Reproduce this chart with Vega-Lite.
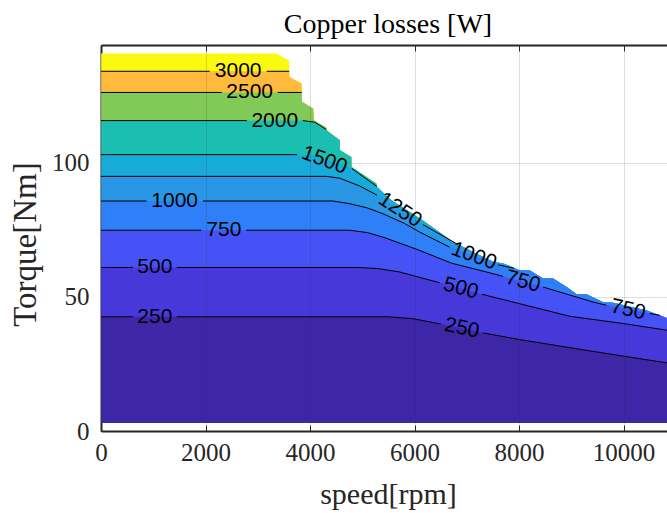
{
  "$schema": "https://vega.github.io/schema/vega-lite/v6.json",
  "width": 566,
  "height": 386,
  "autosize": {"type": "none"},
  "padding": {"left": 101, "top": 45, "right": 0, "bottom": 82},
  "background": "white",
  "view": {"stroke": null},
  "title": {"text": "Copper losses [W]", "font": "Liberation Serif", "fontSize": 28, "fontWeight": "normal", "color": "#000000", "anchor": "middle", "dx": 4, "baseline": "alphabetic", "offset": -16, "frame": "group"},
  "config": {
    "axis": {"minExtent": 0, "maxExtent": 200},
    "axisY": {"grid": true, "gridColor": "#262626", "gridOpacity": 0.15, "gridWidth": 1, "tickSize": -6, "tickColor": "#262626", "tickWidth": 1, "domainColor": "#262626", "domainWidth": 2, "labelFont": "Liberation Serif", "labelFontSize": 25, "labelColor": "#262626", "labelPadding": 18, "titleFont": "Liberation Serif", "titleFontSize": 33, "titleFontWeight": "normal", "titleColor": "#262626", "titleAngle": 270, "titleAlign": "center", "titleBaseline": "bottom", "titleX": -59, "titleY": 199, "zindex": 1}
  },
  "datasets": {
    "curves": [
      {"c":"env","s":0,"t":140.8,"seg":"e"},
      {"c":"env","s":3360,"t":140.8,"seg":"e"},
      {"c":"env","s":3600,"t":138.1,"seg":"e"},
      {"c":"env","s":3605,"t":132.1,"seg":"e"},
      {"c":"env","s":3840,"t":129.6,"seg":"e"},
      {"c":"env","s":3845,"t":122.8,"seg":"e"},
      {"c":"env","s":4060,"t":120.3,"seg":"e"},
      {"c":"env","s":4070,"t":115.9,"seg":"e"},
      {"c":"env","s":4310,"t":113.2,"seg":"e"},
      {"c":"env","s":4315,"t":112.2,"seg":"e"},
      {"c":"env","s":4570,"t":108.5,"seg":"e"},
      {"c":"env","s":4575,"t":104.7,"seg":"e"},
      {"c":"env","s":4790,"t":102.2,"seg":"e"},
      {"c":"env","s":4795,"t":98.5,"seg":"e"},
      {"c":"env","s":5270,"t":92.3,"seg":"e"},
      {"c":"env","s":5280,"t":90.4,"seg":"e"},
      {"c":"env","s":5560,"t":86.1,"seg":"e"},
      {"c":"env","s":6160,"t":78.5,"seg":"e"},
      {"c":"env","s":6740,"t":70.5,"seg":"e"},
      {"c":"env","s":7500,"t":63.1,"seg":"e"},
      {"c":"env","s":7700,"t":62.5,"seg":"e"},
      {"c":"env","s":8010,"t":60.0,"seg":"e"},
      {"c":"env","s":8200,"t":60.0,"seg":"e"},
      {"c":"env","s":8460,"t":56.9,"seg":"e"},
      {"c":"env","s":8650,"t":56.9,"seg":"e"},
      {"c":"env","s":8910,"t":53.7,"seg":"e"},
      {"c":"env","s":9100,"t":51.0,"seg":"e"},
      {"c":"env","s":9290,"t":51.0,"seg":"e"},
      {"c":"env","s":9610,"t":48.0,"seg":"e"},
      {"c":"env","s":9800,"t":47.8,"seg":"e"},
      {"c":"env","s":10440,"t":45.0,"seg":"e"},
      {"c":"env","s":10690,"t":43.2,"seg":"e"},
      {"c":"env","s":10830,"t":42.1,"seg":"e"},

      {"c":"3000","s":0,"t":134.2,"seg":"a"},
      {"c":"3000","s":2080,"t":134.2,"seg":"a"},
      {"c":"3000","s":3170,"t":134.2,"seg":"b"},
      {"c":"3000","s":3600,"t":134.2,"seg":"b"},

      {"c":"2500","s":0,"t":126.3,"seg":"a"},
      {"c":"2500","s":2310,"t":126.3,"seg":"a"},
      {"c":"2500","s":3380,"t":126.3,"seg":"b"},
      {"c":"2500","s":3840,"t":126.3,"seg":"b"},

      {"c":"2000","s":0,"t":115.8,"seg":"a"},
      {"c":"2000","s":2790,"t":115.8,"seg":"a"},
      {"c":"2000","s":3860,"t":115.8,"seg":"b"},
      {"c":"2000","s":4090,"t":115.2,"seg":"b"},
      {"c":"2000","s":4310,"t":112.5,"seg":"b"},

      {"c":"1500","s":0,"t":103.1,"seg":"a"},
      {"c":"1500","s":3750,"t":103.1,"seg":"a"},
      {"c":"1500","s":4000,"t":102.8,"seg":"gap"},
      {"c":"1500","s":4300,"t":101.3,"seg":"gap"},
      {"c":"1500","s":4550,"t":99.7,"seg":"gap"},
      {"c":"1500","s":4800,"t":97.9,"seg":"b"},
      {"c":"1500","s":5280,"t":91.2,"seg":"b"},

      {"c":"1250","s":0,"t":95.0,"seg":"a"},
      {"c":"1250","s":4310,"t":95.0,"seg":"a"},
      {"c":"1250","s":4570,"t":94.3,"seg":"a"},
      {"c":"1250","s":4950,"t":91.4,"seg":"a"},
      {"c":"1250","s":5280,"t":88.0,"seg":"a"},
      {"c":"1250","s":6160,"t":77.0,"seg":"b"},
      {"c":"1250","s":6790,"t":70.0,"seg":"b"},

      {"c":"1000","s":0,"t":85.8,"seg":"a"},
      {"c":"1000","s":870,"t":85.8,"seg":"a"},
      {"c":"1000","s":1950,"t":85.8,"seg":"b"},
      {"c":"1000","s":4440,"t":85.8,"seg":"b"},
      {"c":"1000","s":4760,"t":84.8,"seg":"b"},
      {"c":"1000","s":5100,"t":83.2,"seg":"b"},
      {"c":"1000","s":5400,"t":81.0,"seg":"b"},
      {"c":"1000","s":5800,"t":77.5,"seg":"b"},
      {"c":"1000","s":6100,"t":74.2,"seg":"b"},
      {"c":"1000","s":6670,"t":68.6,"seg":"b"},
      {"c":"1000","s":7600,"t":62.0,"seg":"c"},
      {"c":"1000","s":7900,"t":60.7,"seg":"c"},

      {"c":"750","s":0,"t":74.9,"seg":"a"},
      {"c":"750","s":1920,"t":74.9,"seg":"a"},
      {"c":"750","s":2780,"t":74.9,"seg":"b"},
      {"c":"750","s":4760,"t":74.9,"seg":"b"},
      {"c":"750","s":5100,"t":74.0,"seg":"b"},
      {"c":"750","s":5400,"t":72.3,"seg":"b"},
      {"c":"750","s":6040,"t":67.8,"seg":"b"},
      {"c":"750","s":6710,"t":62.6,"seg":"b"},
      {"c":"750","s":7380,"t":59.3,"seg":"b"},
      {"c":"750","s":7690,"t":57.7,"seg":"b"},
      {"c":"750","s":8460,"t":53.7,"seg":"c"},
      {"c":"750","s":9420,"t":48.1,"seg":"c"},
      {"c":"750","s":9670,"t":46.9,"seg":"c"},
      {"c":"750","s":10500,"t":43.8,"seg":"d"},
      {"c":"750","s":10690,"t":43.2,"seg":"d"},

      {"c":"500","s":0,"t":61.0,"seg":"a"},
      {"c":"500","s":610,"t":61.0,"seg":"a"},
      {"c":"500","s":1450,"t":61.0,"seg":"b"},
      {"c":"500","s":4900,"t":61.0,"seg":"b"},
      {"c":"500","s":5300,"t":60.6,"seg":"b"},
      {"c":"500","s":5720,"t":59.3,"seg":"b"},
      {"c":"500","s":6480,"t":55.3,"seg":"b"},
      {"c":"500","s":7290,"t":51.0,"seg":"c"},
      {"c":"500","s":8010,"t":47.5,"seg":"c"},
      {"c":"500","s":8970,"t":42.8,"seg":"c"},
      {"c":"500","s":9990,"t":40.1,"seg":"c"},
      {"c":"500","s":10830,"t":37.6,"seg":"c"},

      {"c":"250","s":0,"t":42.6,"seg":"a"},
      {"c":"250","s":610,"t":42.6,"seg":"a"},
      {"c":"250","s":1450,"t":42.6,"seg":"b"},
      {"c":"250","s":5500,"t":42.6,"seg":"b"},
      {"c":"250","s":5970,"t":41.9,"seg":"b"},
      {"c":"250","s":6500,"t":39.9,"seg":"b"},
      {"c":"250","s":7310,"t":36.6,"seg":"c"},
      {"c":"250","s":8010,"t":34.1,"seg":"c"},
      {"c":"250","s":9480,"t":29.5,"seg":"c"},
      {"c":"250","s":10830,"t":25.4,"seg":"c"}
    ],
    "labels": [
      {"lv":"3000","n":"3000","s":2625,"t":134.2},
      {"lv":"2500","n":"2500","s":2845,"t":126.3},
      {"lv":"2000","n":"2000","s":3325,"t":115.8},
      {"lv":"1500","n":"1500","s":4275,"t":101.0},
      {"lv":"1250","n":"1250","s":5720,"t":82.4},
      {"lv":"1000","n":"1000L","s":1410,"t":85.8},
      {"lv":"1000","n":"1000M","s":7135,"t":65.2},
      {"lv":"750","n":"750L","s":2350,"t":74.9},
      {"lv":"750","n":"750M","s":8075,"t":55.7},
      {"lv":"750","n":"750R","s":10085,"t":45.2},
      {"lv":"500","n":"500L","s":1030,"t":61.0},
      {"lv":"500","n":"500M","s":6885,"t":53.2},
      {"lv":"250","n":"250L","s":1030,"t":42.6},
      {"lv":"250","n":"250M","s":6905,"t":38.3}
    ]
  },
  "encoding": {
    "y": {"field": "t", "type": "quantitative", "title": "Torque[Nm]", "scale": {"domain": [0, 144], "nice": false, "zero": false}, "axis": {"values": [0, 50, 100]}}
  },
  "layer": [
    {
      "data": {"name": "curves"},
      "transform": [{"filter": "datum.c == 'env'"}],
      "mark": {"type": "area", "color": "#F9FA10", "clip": true, "interpolate": "linear"},
      "encoding": {"x": {"field": "s", "type": "quantitative", "axis": null, "scale": {"domain": [0, 10830], "nice": false, "zero": false}}, "y2": {"datum": 3}}
    },
    {
      "data": {"name": "curves"},
      "transform": [{"filter": "datum.c == '3000' || (datum.c == 'env' && datum.s > 3600)"}],
      "mark": {"type": "area", "color": "#FDBA3C", "clip": true, "interpolate": "linear"},
      "encoding": {"x": {"field": "s", "type": "quantitative", "axis": null}, "y2": {"datum": 3}}
    },
    {
      "data": {"name": "curves"},
      "transform": [{"filter": "datum.c == '2500' || (datum.c == 'env' && datum.s > 3840)"}],
      "mark": {"type": "area", "color": "#82CA58", "clip": true, "interpolate": "linear"},
      "encoding": {"x": {"field": "s", "type": "quantitative", "axis": null}, "y2": {"datum": 3}}
    },
    {
      "data": {"name": "curves"},
      "transform": [{"filter": "datum.c == '2000' || (datum.c == 'env' && datum.s > 4310)"}],
      "mark": {"type": "area", "color": "#1BBFB1", "clip": true, "interpolate": "linear"},
      "encoding": {"x": {"field": "s", "type": "quantitative", "axis": null}, "y2": {"datum": 3}}
    },
    {
      "data": {"name": "curves"},
      "transform": [{"filter": "datum.c == '1500' || (datum.c == 'env' && datum.s > 5280)"}],
      "mark": {"type": "area", "color": "#18AAD8", "clip": true, "interpolate": "linear"},
      "encoding": {"x": {"field": "s", "type": "quantitative", "axis": null}, "y2": {"datum": 3}}
    },
    {
      "data": {"name": "curves"},
      "transform": [{"filter": "datum.c == '1250' || (datum.c == 'env' && datum.s > 6790)"}],
      "mark": {"type": "area", "color": "#2A96E6", "clip": true, "interpolate": "linear"},
      "encoding": {"x": {"field": "s", "type": "quantitative", "axis": null}, "y2": {"datum": 3}}
    },
    {
      "data": {"name": "curves"},
      "transform": [{"filter": "datum.c == '1000' || (datum.c == 'env' && datum.s > 7900)"}],
      "mark": {"type": "area", "color": "#2F7FF8", "clip": true, "interpolate": "linear"},
      "encoding": {"x": {"field": "s", "type": "quantitative", "axis": null}, "y2": {"datum": 3}}
    },
    {
      "data": {"name": "curves"},
      "transform": [{"filter": "datum.c == '750' || (datum.c == 'env' && datum.s > 10690)"}],
      "mark": {"type": "area", "color": "#4552F5", "clip": true, "interpolate": "linear"},
      "encoding": {"x": {"field": "s", "type": "quantitative", "axis": null}, "y2": {"datum": 3}}
    },
    {
      "data": {"name": "curves"},
      "transform": [{"filter": "datum.c == '500'"}],
      "mark": {"type": "area", "color": "#4638D9", "clip": true, "interpolate": "linear"},
      "encoding": {"x": {"field": "s", "type": "quantitative", "axis": null}, "y2": {"datum": 3}}
    },
    {
      "data": {"name": "curves"},
      "transform": [{"filter": "datum.c == '250'"}],
      "mark": {"type": "area", "color": "#3D27A6", "clip": true, "interpolate": "linear"},
      "encoding": {"x": {"field": "s", "type": "quantitative", "axis": null}, "y2": {"datum": 3}}
    },
    {
      "data": {"name": "curves"},
      "transform": [{"filter": "datum.c != 'env' && datum.seg != 'gap'"}],
      "mark": {"type": "line", "color": "#000000", "strokeWidth": 1, "clip": true, "interpolate": "linear"},
      "encoding": {
        "x": {"field": "s", "type": "quantitative", "axis": {"orient": "bottom", "title": "speed[rpm]", "values": [0, 2000, 4000, 6000, 8000, 10000], "format": "d", "grid": true, "gridColor": "#262626", "gridOpacity": 0.15, "gridWidth": 1, "tickSize": -6, "tickColor": "#262626", "tickWidth": 1, "domainColor": "#262626", "domainWidth": 2, "labelFont": "Liberation Serif", "labelFontSize": 25, "labelColor": "#262626", "labelPadding": 15, "labelFlush": false, "titleFont": "Liberation Serif", "titleFontSize": 30, "titleFontWeight": "normal", "titleColor": "#262626", "titleX": 287, "titleY": 72, "titleBaseline": "alphabetic", "titleAlign": "center", "zindex": 1}},
        "detail": [{"field": "c"}, {"field": "seg"}]
      }
    },
    {
      "data": {"name": "labels"},
      "transform": [{"filter": "indexof(['3000','2500','2000','1000L','750L','500L','250L'], datum.n) >= 0"}],
      "mark": {"type": "text", "font": "Liberation Sans", "fontSize": 21, "color": "#000000", "align": "center", "baseline": "middle", "angle": 0},
      "encoding": {"x": {"field": "s", "type": "quantitative", "axis": {"orient": "top", "labels": false, "title": null, "values": [0, 2000, 4000, 6000, 8000, 10000], "grid": false, "tickSize": -6, "tickColor": "#262626", "tickWidth": 1, "domainColor": "#262626", "domainWidth": 2, "minExtent": 0, "zindex": 1}}, "text": {"field": "lv"}}
    },
    {
      "data": {"name": "labels"},
      "transform": [{"filter": "indexof(['750R','250M'], datum.n) >= 0"}],
      "mark": {"type": "text", "font": "Liberation Sans", "fontSize": 21, "color": "#000000", "align": "center", "baseline": "middle", "angle": 12},
      "encoding": {"x": {"field": "s", "type": "quantitative", "axis": null}, "text": {"field": "lv"}}
    },
    {
      "data": {"name": "labels"},
      "transform": [{"filter": "indexof(['500M','750M'], datum.n) >= 0"}],
      "mark": {"type": "text", "font": "Liberation Sans", "fontSize": 21, "color": "#000000", "align": "center", "baseline": "middle", "angle": 15},
      "encoding": {"x": {"field": "s", "type": "quantitative", "axis": null}, "text": {"field": "lv"}}
    },
    {
      "data": {"name": "labels"},
      "transform": [{"filter": "indexof(['1000M','1500'], datum.n) >= 0"}],
      "mark": {"type": "text", "font": "Liberation Sans", "fontSize": 21, "color": "#000000", "align": "center", "baseline": "middle", "angle": 20},
      "encoding": {"x": {"field": "s", "type": "quantitative", "axis": null}, "text": {"field": "lv"}}
    },
    {
      "data": {"name": "labels"},
      "transform": [{"filter": "datum.n == '1250'"}],
      "mark": {"type": "text", "font": "Liberation Sans", "fontSize": 21, "color": "#000000", "align": "center", "baseline": "middle", "angle": 33},
      "encoding": {"x": {"field": "s", "type": "quantitative", "axis": null}, "text": {"field": "lv"}}
    }
  ]
}
